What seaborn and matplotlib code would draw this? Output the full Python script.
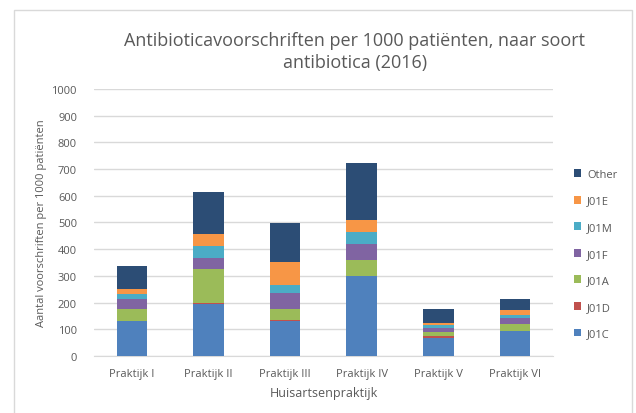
import matplotlib
matplotlib.use("Agg")
import matplotlib.pyplot as plt
import seaborn as sns
from matplotlib.patches import Patch, Rectangle

# values (stacked from bottom to top)
practices = ["Praktijk I", "Praktijk II", "Praktijk III", "Praktijk IV", "Praktijk V", "Praktijk VI"]
j01c = [130, 196, 130, 300, 67, 92]
j01d = [2, 1, 5, 1, 6, 1]
j01a = [44, 129, 41, 60, 15, 26]
j01f = [36, 41, 61, 60, 18, 23]
j01m = [21, 45, 30, 42, 11, 12]
j01e = [18, 46, 86, 46, 5, 17]
other = [86, 155, 146, 215, 53, 42]

series_names = ["J01C", "J01D", "J01A", "J01F", "J01M", "J01E", "Other"]
series_values = [j01c, j01d, j01a, j01f, j01m, j01e, other]
colors = ["#4F81BD", "#C0504D", "#9BBB59", "#8064A2", "#4BACC6", "#F79646", "#2C4D75"]

TEXT = "#595959"
GRID = "#D9D9D9"

sns.set_style("white")
plt.rcParams['font.family'] = ['Open Sans', 'DejaVu Sans']

fig = plt.figure(figsize=(6.36, 4.14), dpi=100)
ax = fig.add_axes([0.1473, 0.1377, 0.7226, 0.645])

bottom = [0] * len(practices)
for name, vals, col in zip(series_names, series_values, colors):
    sns.barplot(x=practices, y=vals, bottom=bottom, color=col, width=0.4,
                saturation=1, edgecolor="none", linewidth=0, ax=ax, zorder=3)
    bottom = [b + v for b, v in zip(bottom, vals)]

ax.set_ylim(0, 1000)
ax.set_xlim(-0.5, len(practices) - 0.5)
ax.set_yticks(range(0, 1001, 100))
ax.yaxis.grid(True, color=GRID, linewidth=1, zorder=0)
ax.set_axisbelow(True)
for s in ["top", "right", "left"]:
    ax.spines[s].set_visible(False)
ax.spines["bottom"].set_color(GRID)
ax.tick_params(axis="both", length=0, labelsize=8, colors=TEXT)
ax.tick_params(axis="y", pad=12)
ax.tick_params(axis="x", pad=9)

ax.set_xlabel("Huisartsenpraktijk", fontsize=9, color=TEXT, labelpad=5)
ax.set_ylabel("Aantal voorschriften per 1000 patiënten", fontsize=8, color=TEXT, labelpad=3)

fig.text(0.558, 0.875, "Antibioticavoorschriften per 1000 patiënten, naar soort\nantibiotica (2016)",
         ha="center", va="center", fontsize=13, color=TEXT, linespacing=1.3)

handles = [Patch(facecolor=c, edgecolor="none") for c in colors][::-1]
labels = series_names[::-1]
leg = fig.legend(handles, labels, loc="upper left", bbox_to_anchor=(0.895, 0.6),
                 frameon=False, fontsize=8, labelspacing=1.4, handlelength=0.7,
                 handleheight=0.7, handletextpad=0.5, borderaxespad=0)
for t in leg.get_texts():
    t.set_color(TEXT)

# chart-area border
fig.patches.append(Rectangle((14 / 636, -0.05), (632 - 14) / 636, 1.05 - 11 / 414,
                             transform=fig.transFigure, fill=False,
                             edgecolor="#D9D9D9", linewidth=1))

fig.savefig("out.png", dpi=100)
